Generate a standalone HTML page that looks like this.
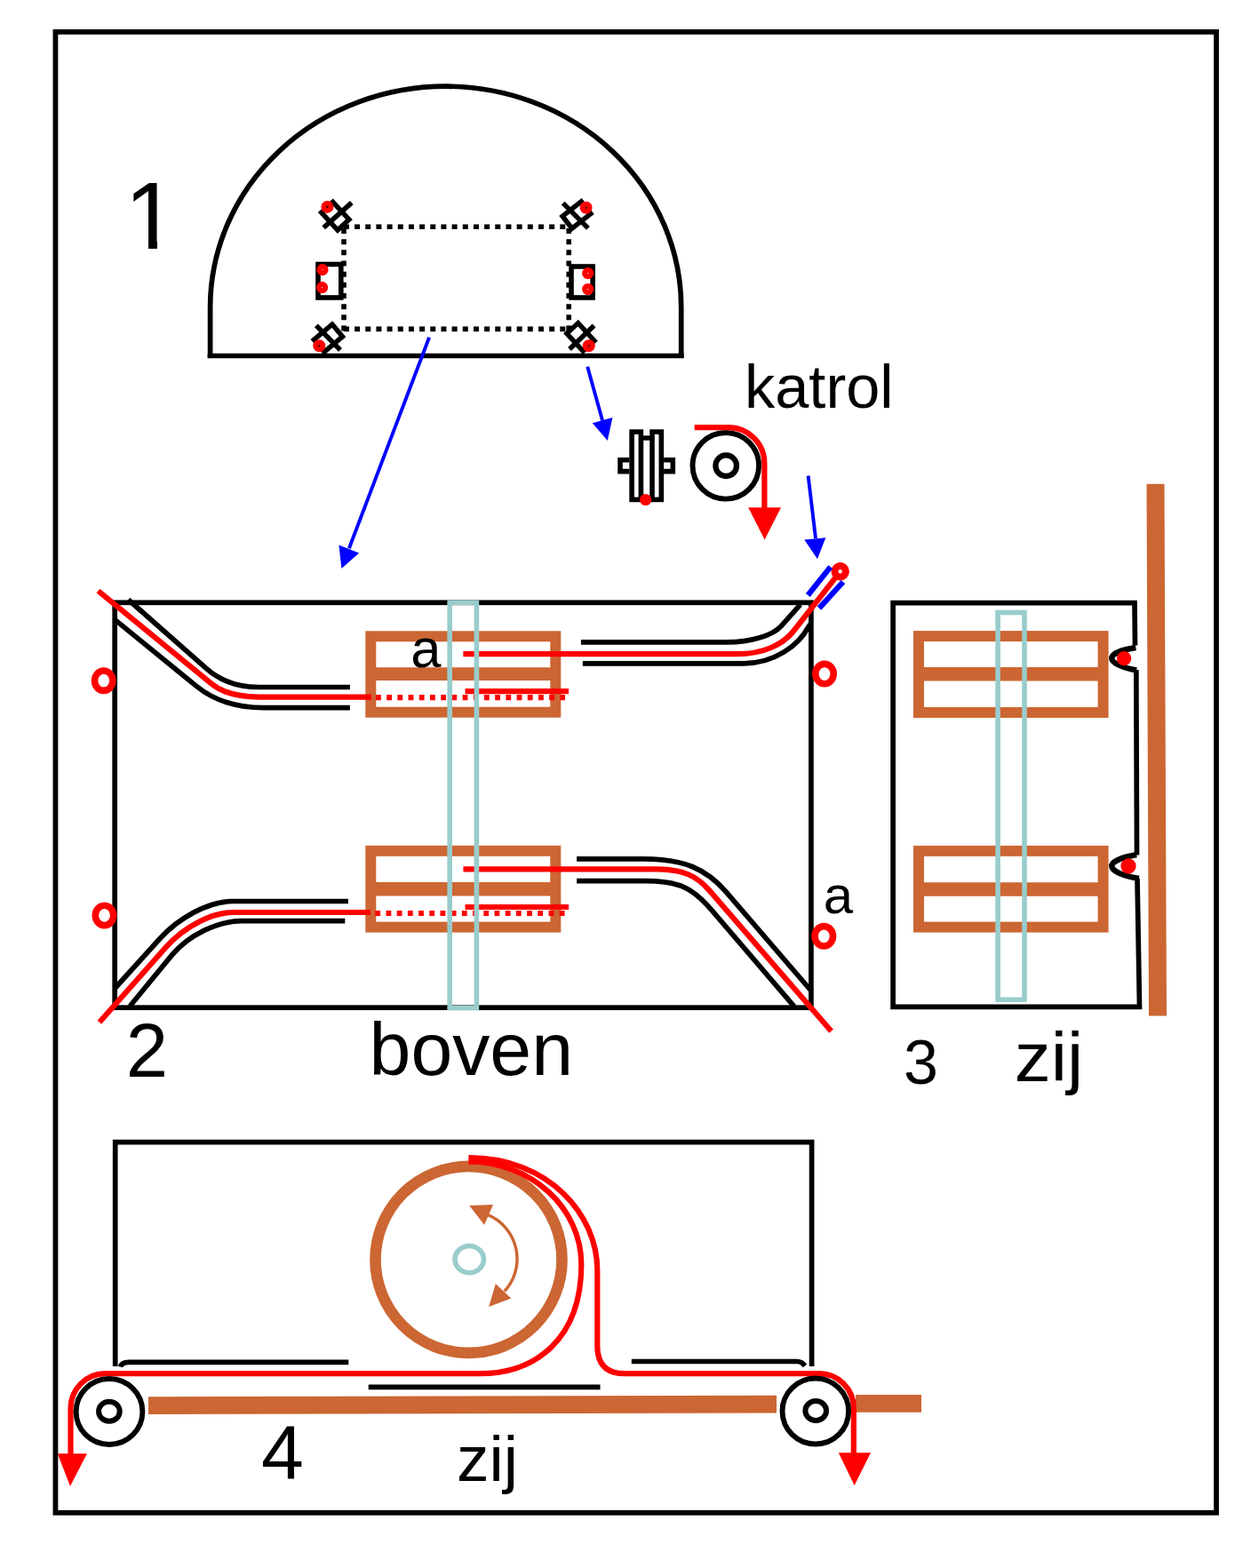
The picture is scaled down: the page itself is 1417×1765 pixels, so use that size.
<!DOCTYPE html>
<html lang="nl">
<head>
<meta charset="utf-8">
<title>katrol</title>
<style>
html,body{margin:0;padding:0;background:#fff;}
body{width:1417px;height:1765px;overflow:hidden;}
svg{display:block;}
text{font-family:"Liberation Sans",sans-serif;fill:#000;}
.k{fill:none;stroke:#000;stroke-width:5.7;}
.r{fill:none;stroke:#f00;stroke-width:6.2;}
.b{fill:none;stroke:#00f;stroke-width:3.9;}
.br{fill:none;stroke:#c63;}
.t{fill:none;stroke:#9cc;stroke-width:5.6;}
</style>
</head>
<body>
<svg width="1417" height="1765" viewBox="0 0 1417 1765">
<rect x="0" y="0" width="1417" height="1765" fill="#fff"/>

<!-- outer frame -->
<rect x="62.45" y="35.9" width="1306.55" height="1666.9" class="k" style="stroke-width:5.8"/>

<!-- ============ 1 : dome ============ -->
<g id="s1">
<path class="k" d="M236.6,403 L236.6,346 A265.05,248.8 0 0 1 766.7,346 L766.7,403" />
<path class="k" d="M233.7,400.5 L769.6,400.5"/>
<clipPath id="c1"><path d="M120,190 H220 V270 H177 V290 H167 V270 H120 Z"/></clipPath>
<text x="139.9" y="280.3" font-size="107.5" clip-path="url(#c1)">1</text>

<!-- dotted rectangle -->
<g stroke="#000" stroke-width="5.6" fill="none" stroke-dasharray="6 6.17">
<path d="M386.9,255.2 H643"/>
<path d="M386.9,370.4 H643"/>
<path d="M387,257 V373"/>
<path d="M640.2,257 V373"/>
</g>

<!-- side squares -->
<rect x="358" y="297.5" width="25.8" height="37.5" class="k" style="stroke-width:5.6"/>
<rect x="643" y="300" width="24.1" height="35" class="k" style="stroke-width:5.6"/>

<!-- corner pulleys -->
<g class="k" style="stroke-width:5.5">
<path d="M361.7,239.2 L374.6,227.3 L392.9,247.1 L380,259 Z"/>
<path d="M364.2,256.3 L395.8,228.1"/>
<path d="M633.1,243.4 L654.2,226.9 L664.9,240.6 L643.8,257.1 Z"/>
<path d="M633.7,228.6 L661.9,256.9"/>
<path d="M353.4,382.4 L373.9,365.1 L385.5,378.9 L365,396.2 Z"/>
<path d="M355.9,366.4 L383,394"/>
<path d="M637.9,375.4 L650.7,363.6 L668.9,383.5 L656.1,395.2 Z"/>
<path d="M641,392.9 L668.6,366.4"/>
</g>

<!-- red dots -->
<g fill="none" stroke="#f00" stroke-width="6">
<circle cx="368.4" cy="232.9" r="4"/>
<circle cx="659.6" cy="233.8" r="4"/>
<circle cx="359.3" cy="389.2" r="4"/>
<circle cx="662.7" cy="389.2" r="4"/>
<circle cx="363" cy="303.6" r="3.6"/>
<circle cx="362.6" cy="323.6" r="3.6"/>
<circle cx="661.7" cy="307.7" r="3.6"/>
<circle cx="661.7" cy="325.5" r="3.6"/>
</g>
</g>

<!-- blue arrows -->
<g id="arrows">
<path class="b" d="M483.1,379.7 L392.9,617.2"/>
<path fill="#00f" d="M381.4,613.4 L404.1,622.5 L384.4,639.9 Z"/>
<path class="b" d="M661.2,412.7 L678.1,473.4"/>
<path fill="#00f" d="M666.8,476.2 L689.4,470 L683.8,496 Z"/>
<path class="b" d="M909.6,535.5 L918,606"/>
<path fill="#00f" d="M905.3,607.5 L929.3,605.2 L920,629.2 Z"/>
</g>

<!-- katrol -->
<g id="katrol">
<text x="838" y="458.7" font-size="68.5">katrol</text>
<!-- side view -->
<rect x="711.1" y="486.1" width="33.2" height="76.3" class="k" style="stroke-width:5.6"/>
<path class="k" style="stroke-width:5.6" d="M721.4,486 V562 M734,486 V562"/>
<rect x="724.2" y="480" width="7" height="10.3" fill="#fff"/>
<path class="k" style="stroke-width:5.4" d="M723,493 H732.4"/>
<path class="k" style="stroke-width:5.6" d="M708.3,517.8 H698 V530.6 H708.3 M747.1,517.8 H757.3 V530.6 H747.1"/>
<circle cx="726.6" cy="562.5" r="6.6" fill="#f00"/>
<!-- front view -->
<circle cx="816.8" cy="524.3" r="37.3" class="k" style="stroke-width:5.9"/>
<circle cx="817.2" cy="524.2" r="11.8" class="k" style="stroke-width:6.3"/>
<path class="r" d="M781.7,481.2 H820 A40.4,40.4 0 0 1 860.4,521.6 V575"/>
<path fill="#f00" d="M842.2,571.2 H879 L860.6,607.5 Z"/>
</g>

<!-- ============ 2 : boven ============ -->
<g id="s2">
<rect x="129.2" y="678.3" width="783.7" height="455.9" class="k"/>

<!-- brown boxes -->
<g class="br">
<rect x="417.3" y="716.3" width="208" height="85.4" stroke-width="12"/>
<path d="M417,758.6 H626" stroke-width="14.8"/>
<rect x="417.3" y="957.8" width="208" height="85.8" stroke-width="12"/>
<path d="M417,1000.8 H626" stroke-width="15.4"/>
</g>

<text x="462.2" y="751.2" font-size="61.5">a</text>
<text x="926.8" y="1028.4" font-size="60">a</text>

<!-- black guides -->
<path class="k" d="M144.4,675 L232.4,752.7 Q256,773.5 292,773.5 H393.9"/>
<path class="k" d="M129.4,697.6 L221.1,772.4 Q250.8,796.7 297,796.7 H393.9"/>
<path class="k" d="M130.2,1111.5 L180,1056.5 C201.5,1032.8 235,1014.5 262,1014.5 H391.9"/>
<path class="k" d="M146.3,1132.5 L193.2,1075.4 C212.4,1052.4 245,1036.7 272,1036.7 H388.3"/>
<path class="k" d="M653.9,722.8 H818 C845,722.8 869.8,715.2 879.1,704.8 L900.7,680.6"/>
<path class="k" d="M655.8,746.8 H837 C872,746.8 899,726 909.6,706.1 L912.6,701.8"/>
<path class="k" d="M649.1,966.9 H724.4 C770,966.9 795,978 817.6,1004.4 L913.6,1116"/>
<path class="k" d="M649.1,991.7 H727 C765,991.7 780,1000 800.7,1024.2 L893.8,1132.9"/>

<!-- red cables -->
<path class="r" d="M110.5,665.2 L238,769.6 Q256.3,784.6 291.7,784.6 H418"/>
<path class="r" d="M423,785.1 H636" stroke-dasharray="5.8 6.4"/>
<path class="r" d="M523.5,778.1 H640"/>
<path class="r" d="M111.9,1150.7 L186,1067 C208.5,1041.5 240,1027 262,1027 H417"/>
<path class="r" d="M422.3,1028 H636" stroke-dasharray="5.8 6.4"/>
<path class="r" d="M523.5,1021 H640"/>
<path class="r" d="M521.4,736.2 H830 C858,736.2 880.6,726.2 893,710.5 L945.7,643.3"/>
<path class="r" d="M521.4,978.3 H738.6 C770,978.3 785,987 797.8,1001.6 L935.6,1160.7"/>

<!-- teal bar -->
<rect x="506.2" y="678.3" width="30.2" height="456.2" class="t"/>

<!-- red rings -->
<g fill="none" stroke="#f00" stroke-width="7.6">
<ellipse cx="116.7" cy="766.2" rx="10.2" ry="11.2"/>
<ellipse cx="117.5" cy="1030.4" rx="10.2" ry="11.2"/>
<ellipse cx="928" cy="758.6" rx="10.2" ry="11.2"/>
<ellipse cx="927.3" cy="1053.8" rx="10.2" ry="11.2"/>
<circle cx="945.7" cy="643.3" r="6.2" stroke-width="8" fill="#fff"/>
</g>
<path class="b" style="stroke-width:6.2" d="M909.3,670 L934.7,638.1 M922,684.7 L948.9,655"/>

<text x="141.8" y="1211.9" font-size="85">2</text>
<text x="415.6" y="1210.2" font-size="83" textLength="229.4" lengthAdjust="spacingAndGlyphs">boven</text>
</g>

<!-- ============ 3 : zij ============ -->
<g id="s3">
<path class="k" d="M1277.5,726.5 L1277,678.6 H1005.1 V1133.4 H1282.5 L1280,989"/>
<path class="k" d="M1278.8,754 L1279.5,962.5"/>
<path class="k" style="stroke-width:6.4" d="M1278.4,729 C1262,731.5 1251.3,736 1251.3,741 C1251.3,746 1262,751.5 1279.2,754.4"/>
<path class="k" style="stroke-width:6.4" d="M1279.2,962.1 C1262,965 1251.3,970 1251.3,974.8 C1251.3,980 1262,986 1282,988.9"/>
<circle cx="1265.1" cy="741.2" r="8.2" fill="#f00"/>
<circle cx="1270" cy="974.8" r="8.6" fill="#f00"/>
<g class="br">
<rect x="1034" y="716.1" width="207.6" height="85.9" stroke-width="12"/>
<path d="M1034,758.7 H1241" stroke-width="15.5"/>
<rect x="1034" y="957.9" width="207.6" height="85.7" stroke-width="12"/>
<path d="M1034,1001 H1241" stroke-width="15.5"/>
</g>
<rect x="1123.1" y="689.5" width="29.9" height="435.8" class="t"/>
<path fill="#c63" d="M1290.5,544.7 H1310.5 L1313,1143.5 H1293 Z"/>
<text x="1017" y="1219.5" font-size="70">3</text>
<text x="1141.8" y="1217" font-size="77" textLength="77.4" lengthAdjust="spacingAndGlyphs">zij</text>
</g>

<!-- ============ 4 : zij ============ -->
<g id="s4">
<path class="k" d="M129.7,1538 V1285.6 H913.6 V1538"/>
<path class="k" d="M135.6,1538.6 Q136.6,1533.3 145,1533.3 H392.3"/>
<path class="k" d="M710.8,1532.5 H897 Q902.5,1532.5 906,1537.5"/>
<path class="k" d="M414.7,1561.3 H675.5"/>
<!-- brown floor bar -->
<path fill="#c63" d="M167,1572.3 L874,1570.8 V1590.4 L167,1592 Z"/>
<path fill="#c63" d="M963,1570 H1037 V1589.8 H963 Z"/>
<!-- drum -->
<circle cx="527.5" cy="1417.9" r="105" class="br" stroke-width="12.6"/>
<ellipse cx="528.2" cy="1417.6" rx="16.2" ry="15.1" class="t"/>
<path class="br" stroke-width="3.4" d="M548.8,1367.4 A53.6,53.6 0 0 1 567.7,1453.5"/>
<path fill="#c63" d="M528.2,1357 L555,1356.1 L545.1,1378.7 Z"/>
<path fill="#c63" d="M550.2,1471 L557.8,1445 L575.3,1461.4 Z"/>
<!-- red cables -->
<path class="r" d="M527.4,1307.5 C597.5,1307.5 654.3,1359.3 654.3,1423.3 C654.3,1508 602,1546.2 540,1546.2 H118.5 A39,39 0 0 0 79.5,1585.2 V1640"/>
<path class="r" d="M527.4,1303.2 C617.4,1303.2 672.3,1367 672.3,1430 V1515 Q672.3,1546.2 703,1546.2 H922 A38.8,38.8 0 0 1 960.8,1585 V1640"/>
<path fill="#f00" d="M64.8,1636.3 H97.9 L79,1673 Z"/>
<path fill="#f00" d="M943.8,1635.2 H980 L961.6,1671.9 Z"/>
<!-- pulleys -->
<ellipse cx="123" cy="1589" rx="37.4" ry="37" class="k" style="stroke-width:5.9"/>
<ellipse cx="122.9" cy="1588.7" rx="11.8" ry="11" class="k" style="stroke-width:6"/>
<ellipse cx="917.8" cy="1588.5" rx="37.3" ry="37" class="k" style="stroke-width:5.9"/>
<ellipse cx="918.2" cy="1588" rx="11.8" ry="10.9" class="k" style="stroke-width:6"/>
<text x="294" y="1664" font-size="86">4</text>
<text x="514" y="1666.8" font-size="73">zij</text>
</g>
</svg>
</body>
</html>
